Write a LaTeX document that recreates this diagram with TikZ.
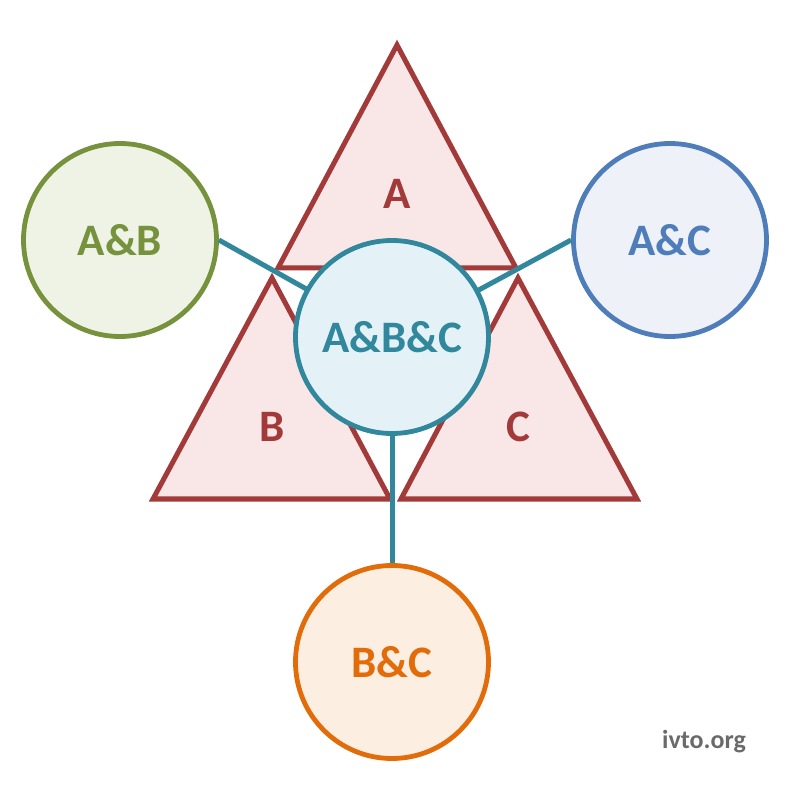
\documentclass[tikz,border=0pt]{standalone}
\usepackage{fontspec}
\setmainfont{Carlito}
\definecolor{tri}{HTML}{A33A3A}
\definecolor{trifill}{HTML}{F9E6E7}
\definecolor{teal}{HTML}{31879C}
\definecolor{tealfill}{HTML}{E4F2F7}
\definecolor{olive}{HTML}{76923C}
\definecolor{olivefill}{HTML}{EFF3E6}
\definecolor{blu}{HTML}{4F7DBA}
\definecolor{blufill}{HTML}{EEF2F8}
\definecolor{orng}{HTML}{E36C0A}
\definecolor{orngfill}{HTML}{FDEEE2}
\definecolor{wm}{HTML}{6A6A6A}
\tikzset{
  tribox/.style={draw=tri, fill=trifill, line width=5pt, line join=miter},
  trilabel/.style={text=tri, font=\fontsize{45}{50}\selectfont\bfseries},
  setcircle/.style={circle, minimum size=193pt, inner sep=0pt, line width=4.8pt, font=\fontsize{45}{50}\selectfont\bfseries},
  link/.style={draw=teal, line width=5pt}
}
\begin{document}
\begin{tikzpicture}[x=1pt,y=-1pt]
\useasboundingbox (0,0) rectangle (796,794);
% triangles
\coordinate (Atop) at (397,45);
\coordinate (Aleft) at (278,268);
\coordinate (Aright) at (516,268);
\coordinate (Btop) at (272,278);
\coordinate (Bleft) at (153,499);
\coordinate (Bright) at (390,499);
\coordinate (Ctop) at (518,278);
\coordinate (Cleft) at (401,499);
\coordinate (Cright) at (637,499);
\draw[tribox] (Atop) -- (Aright) -- (Aleft) -- cycle;
\draw[tribox] (Btop) -- (Bright) -- (Bleft) -- cycle;
\draw[tribox] (Ctop) -- (Cright) -- (Cleft) -- cycle;
\node[trilabel] (la) at (397,194) {A};
\node[trilabel] (lb) at (272,427) {B};
\node[trilabel] (lc) at (518,427) {C};
% circles
\coordinate (ABCc) at (392,337);
\node[setcircle, draw=olive, fill=olivefill, text=olive] (AB) at (120,240) {A\&B};
\node[setcircle, draw=blu, fill=blufill, text=blu] (AC) at (670,240) {A\&C};
\node[setcircle, draw=orng, fill=orngfill, text=orng] (BC) at (392,662) {B\&C};
% connectors
\draw[link] (AB.east) -- (ABCc);
\draw[link] (AC.west) -- (ABCc);
\draw[link] (BC.north) -- (ABCc);
\node[setcircle, draw=teal, fill=tealfill, text=teal] (ABC) at (ABCc) {A\&B\&C};
\node[text=wm, font=\fontsize{26}{30}\selectfont\bfseries] (wmark) at (704,742) {ivto.org};
\end{tikzpicture}
\end{document}
